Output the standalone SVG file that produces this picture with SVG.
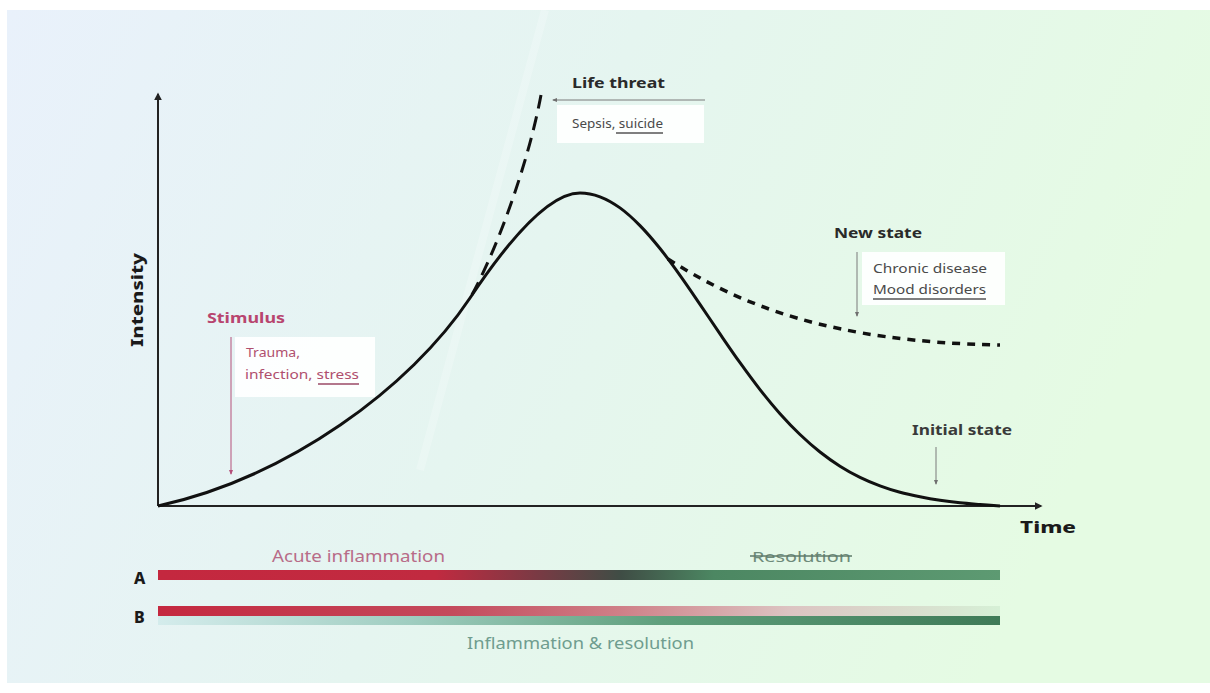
<svg xmlns="http://www.w3.org/2000/svg" width="1210" height="693" viewBox="0 0 1210 693">
<defs>
<linearGradient id="bg" x1="0" y1="0" x2="1" y2="0.25">
<stop offset="0" stop-color="#e9f1fb"/>
<stop offset="0.5" stop-color="#e5f5f0"/>
<stop offset="1" stop-color="#e5fbe3"/>
</linearGradient>
<linearGradient id="barA" x1="158" y1="0" x2="1000" y2="0" gradientUnits="userSpaceOnUse">
<stop offset="0" stop-color="#c4283f"/>
<stop offset="0.33" stop-color="#c12a40"/>
<stop offset="0.45" stop-color="#7a3a44"/>
<stop offset="0.55" stop-color="#3f4d45"/>
<stop offset="0.66" stop-color="#4c8762"/>
<stop offset="1" stop-color="#5d9a72"/>
</linearGradient>
<linearGradient id="barB1" x1="158" y1="0" x2="1000" y2="0" gradientUnits="userSpaceOnUse">
<stop offset="0" stop-color="#c4283f"/>
<stop offset="0.35" stop-color="#c44a5c"/>
<stop offset="0.55" stop-color="#cf8088"/>
<stop offset="0.75" stop-color="#dcc4c2"/>
<stop offset="1" stop-color="#d6f0d6"/>
</linearGradient>
<linearGradient id="barB2" x1="158" y1="0" x2="1000" y2="0" gradientUnits="userSpaceOnUse">
<stop offset="0" stop-color="#d4ecec"/>
<stop offset="0.3" stop-color="#9fcdc0"/>
<stop offset="0.6" stop-color="#5f9f7c"/>
<stop offset="1" stop-color="#3f7a57"/>
</linearGradient>
<marker id="axh" viewBox="0 0 10 10" refX="8" refY="5" markerWidth="4" markerHeight="4" orient="auto">
<path d="M0,0 L10,5 L0,10 z" fill="#222"/>
</marker>
<marker id="gh" viewBox="0 0 10 10" refX="8" refY="5" markerWidth="5" markerHeight="5" orient="auto">
<path d="M0,1 L10,5 L0,9 z" fill="#6f6f6f"/>
</marker>
<marker id="rh" viewBox="0 0 10 10" refX="8" refY="5" markerWidth="5" markerHeight="5" orient="auto">
<path d="M0,1 L10,5 L0,9 z" fill="#b5507a"/>
</marker>
</defs>
<style>
text{font-family:"Noto Sans","Open Sans","Liberation Sans",sans-serif;}
.hd{font-weight:700;font-size:15px;fill:#2a2a2a;}
.sm{font-size:12px;fill:#4a4a4a;}
.pk{fill:#b0506e;}
.box{fill:#ffffff;opacity:0.92;}
.ax{stroke:#222;stroke-width:2;fill:none;}
.ga{stroke:#7a7a7a;stroke-width:1;fill:none;}
.ra{stroke:#b5507a;stroke-width:1;fill:none;}
.lbl{font-weight:800;font-size:16px;fill:#1a1a1a;}
</style>
<rect width="1210" height="693" fill="#ffffff"/>
<rect x="7" y="10" width="1203" height="673" fill="url(#bg)"/>
<path d="M545 10 L420 470" stroke="#ffffff" stroke-width="8" opacity="0.22" fill="none"/>

<g id="axes">
<line class="ax" x1="158" y1="506" x2="158" y2="94" marker-end="url(#axh)"/>
<line class="ax" x1="158" y1="506" x2="1041" y2="506" marker-end="url(#axh)"/>
<text class="lbl" transform="translate(143,300) rotate(-90)" text-anchor="middle" font-size="17" textLength="94" lengthAdjust="spacingAndGlyphs">Intensity</text>
<text class="lbl" x="1020" y="533" font-size="20" textLength="56" lengthAdjust="spacingAndGlyphs">Time</text>
</g>

<g id="curve">
<path fill="none" stroke="#111" stroke-width="3" d="M158,506 C288,477.4 410,388 470,298 C500,253 545,193 580,193 C587.5,193 593.33,194.32 600,196.8 C606.67,199.28 613.33,203.1 620,207.9 C626.67,212.7 633.33,218.83 640,225.6 C646.67,232.37 653.33,240.22 660,248.5 C666.67,256.78 673.33,266 680,275.3 C686.67,284.6 693.33,294.53 700,304.3 C706.67,314.07 713.33,324.17 720,333.9 C726.67,343.63 733.33,353.42 740,362.7 C746.67,371.98 753.33,381.1 760,389.6 C766.67,398.1 773.33,406.22 780,413.7 C786.67,421.18 793.33,428.12 800,434.5 C806.67,440.88 813.33,446.72 820,452 C826.67,457.28 833.33,461.97 840,466.2 C846.67,470.43 853.33,474.12 860,477.4 C866.67,480.68 873.33,483.42 880,485.9 C886.67,488.38 893.33,490.48 900,492.3 C906.67,494.12 913.33,495.47 920,496.8 C926.67,498.13 933.33,499.3 940,500.3 C946.67,501.3 953.33,502.1 960,502.8 C966.67,503.5 973.33,503.97 980,504.5 C986.67,505.03 996.67,505.75 1000,506"/>
</g>

<g id="life-threat">
<path fill="none" stroke="#111" stroke-width="3" stroke-dasharray="14 8" d="M541,95 C528,165 495,255 469,300"/>
<rect class="box" x="557" y="105" width="147" height="38"/>
<text class="hd" x="572" y="88" textLength="93" lengthAdjust="spacingAndGlyphs">Life threat</text>
<text class="sm" x="572" y="128" textLength="91" lengthAdjust="spacingAndGlyphs">Sepsis, suicide</text>
<line x1="616" y1="133" x2="663" y2="133" stroke="#555" stroke-width="1.5"/>
</g>

<g id="new-state">
<path fill="none" stroke="#111" stroke-width="3.5" stroke-dasharray="8 7" d="M668,259 C740,305 830,342 1000,345"/>
<rect class="box" x="862" y="252" width="143" height="53"/>
<text class="hd" x="834" y="238" textLength="88" lengthAdjust="spacingAndGlyphs">New state</text>
<text class="sm" x="873" y="273" textLength="114" lengthAdjust="spacingAndGlyphs">Chronic disease</text>
<text class="sm" x="873" y="294" textLength="113" lengthAdjust="spacingAndGlyphs">Mood disorders</text>
<line x1="873" y1="299" x2="986" y2="299" stroke="#555" stroke-width="1.5"/>
</g>

<g id="stimulus">
<rect class="box" x="235" y="337" width="140" height="60"/>
<text class="hd pk" x="207" y="323" textLength="78" lengthAdjust="spacingAndGlyphs" style="fill:#b8456f">Stimulus</text>
<text class="sm pk" x="246" y="357" textLength="54" lengthAdjust="spacingAndGlyphs">Trauma,</text>
<text class="sm pk" x="245" y="379" textLength="114" lengthAdjust="spacingAndGlyphs">infection, stress</text>
<line x1="318" y1="384" x2="359" y2="384" stroke="#9a4a66" stroke-width="1.5"/>
</g>

<g id="initial-state">
<text class="hd" x="912" y="435" textLength="100" lengthAdjust="spacingAndGlyphs" style="fill:#3a3a3a">Initial state</text>
</g>

<g id="connectors">
<line class="ga" x1="705" y1="100" x2="553" y2="100" marker-end="url(#gh)"/>
<line class="ga" x1="857" y1="252" x2="857" y2="316" marker-end="url(#gh)"/>
<line class="ga" x1="936" y1="447" x2="936" y2="484" marker-end="url(#gh)"/>
<line class="ra" x1="231" y1="337" x2="231" y2="474" marker-end="url(#rh)"/>
</g>

<g id="bar-a">
<text class="lbl" x="134" y="584" font-size="17">A</text>
<text x="272" y="562" font-size="16" fill="#b86c88" textLength="173" lengthAdjust="spacingAndGlyphs">Acute inflammation</text>
<text x="752" y="562" font-size="15" fill="#6e8b7a" textLength="99" lengthAdjust="spacingAndGlyphs">Resolution</text>
<line x1="750" y1="556" x2="852" y2="556" stroke="#5e7a6a" stroke-width="1.3"/>
<rect x="158" y="570" width="842" height="10" fill="url(#barA)"/>
</g>

<g id="bar-b">
<text class="lbl" x="134" y="623" font-size="17">B</text>
<rect x="158" y="606" width="842" height="10" fill="url(#barB1)"/>
<rect x="158" y="616" width="842" height="9" fill="url(#barB2)"/>
<text x="467" y="649" font-size="16" fill="#6f9d8f" textLength="227" lengthAdjust="spacingAndGlyphs">Inflammation &amp; resolution</text>
</g>
</svg>
